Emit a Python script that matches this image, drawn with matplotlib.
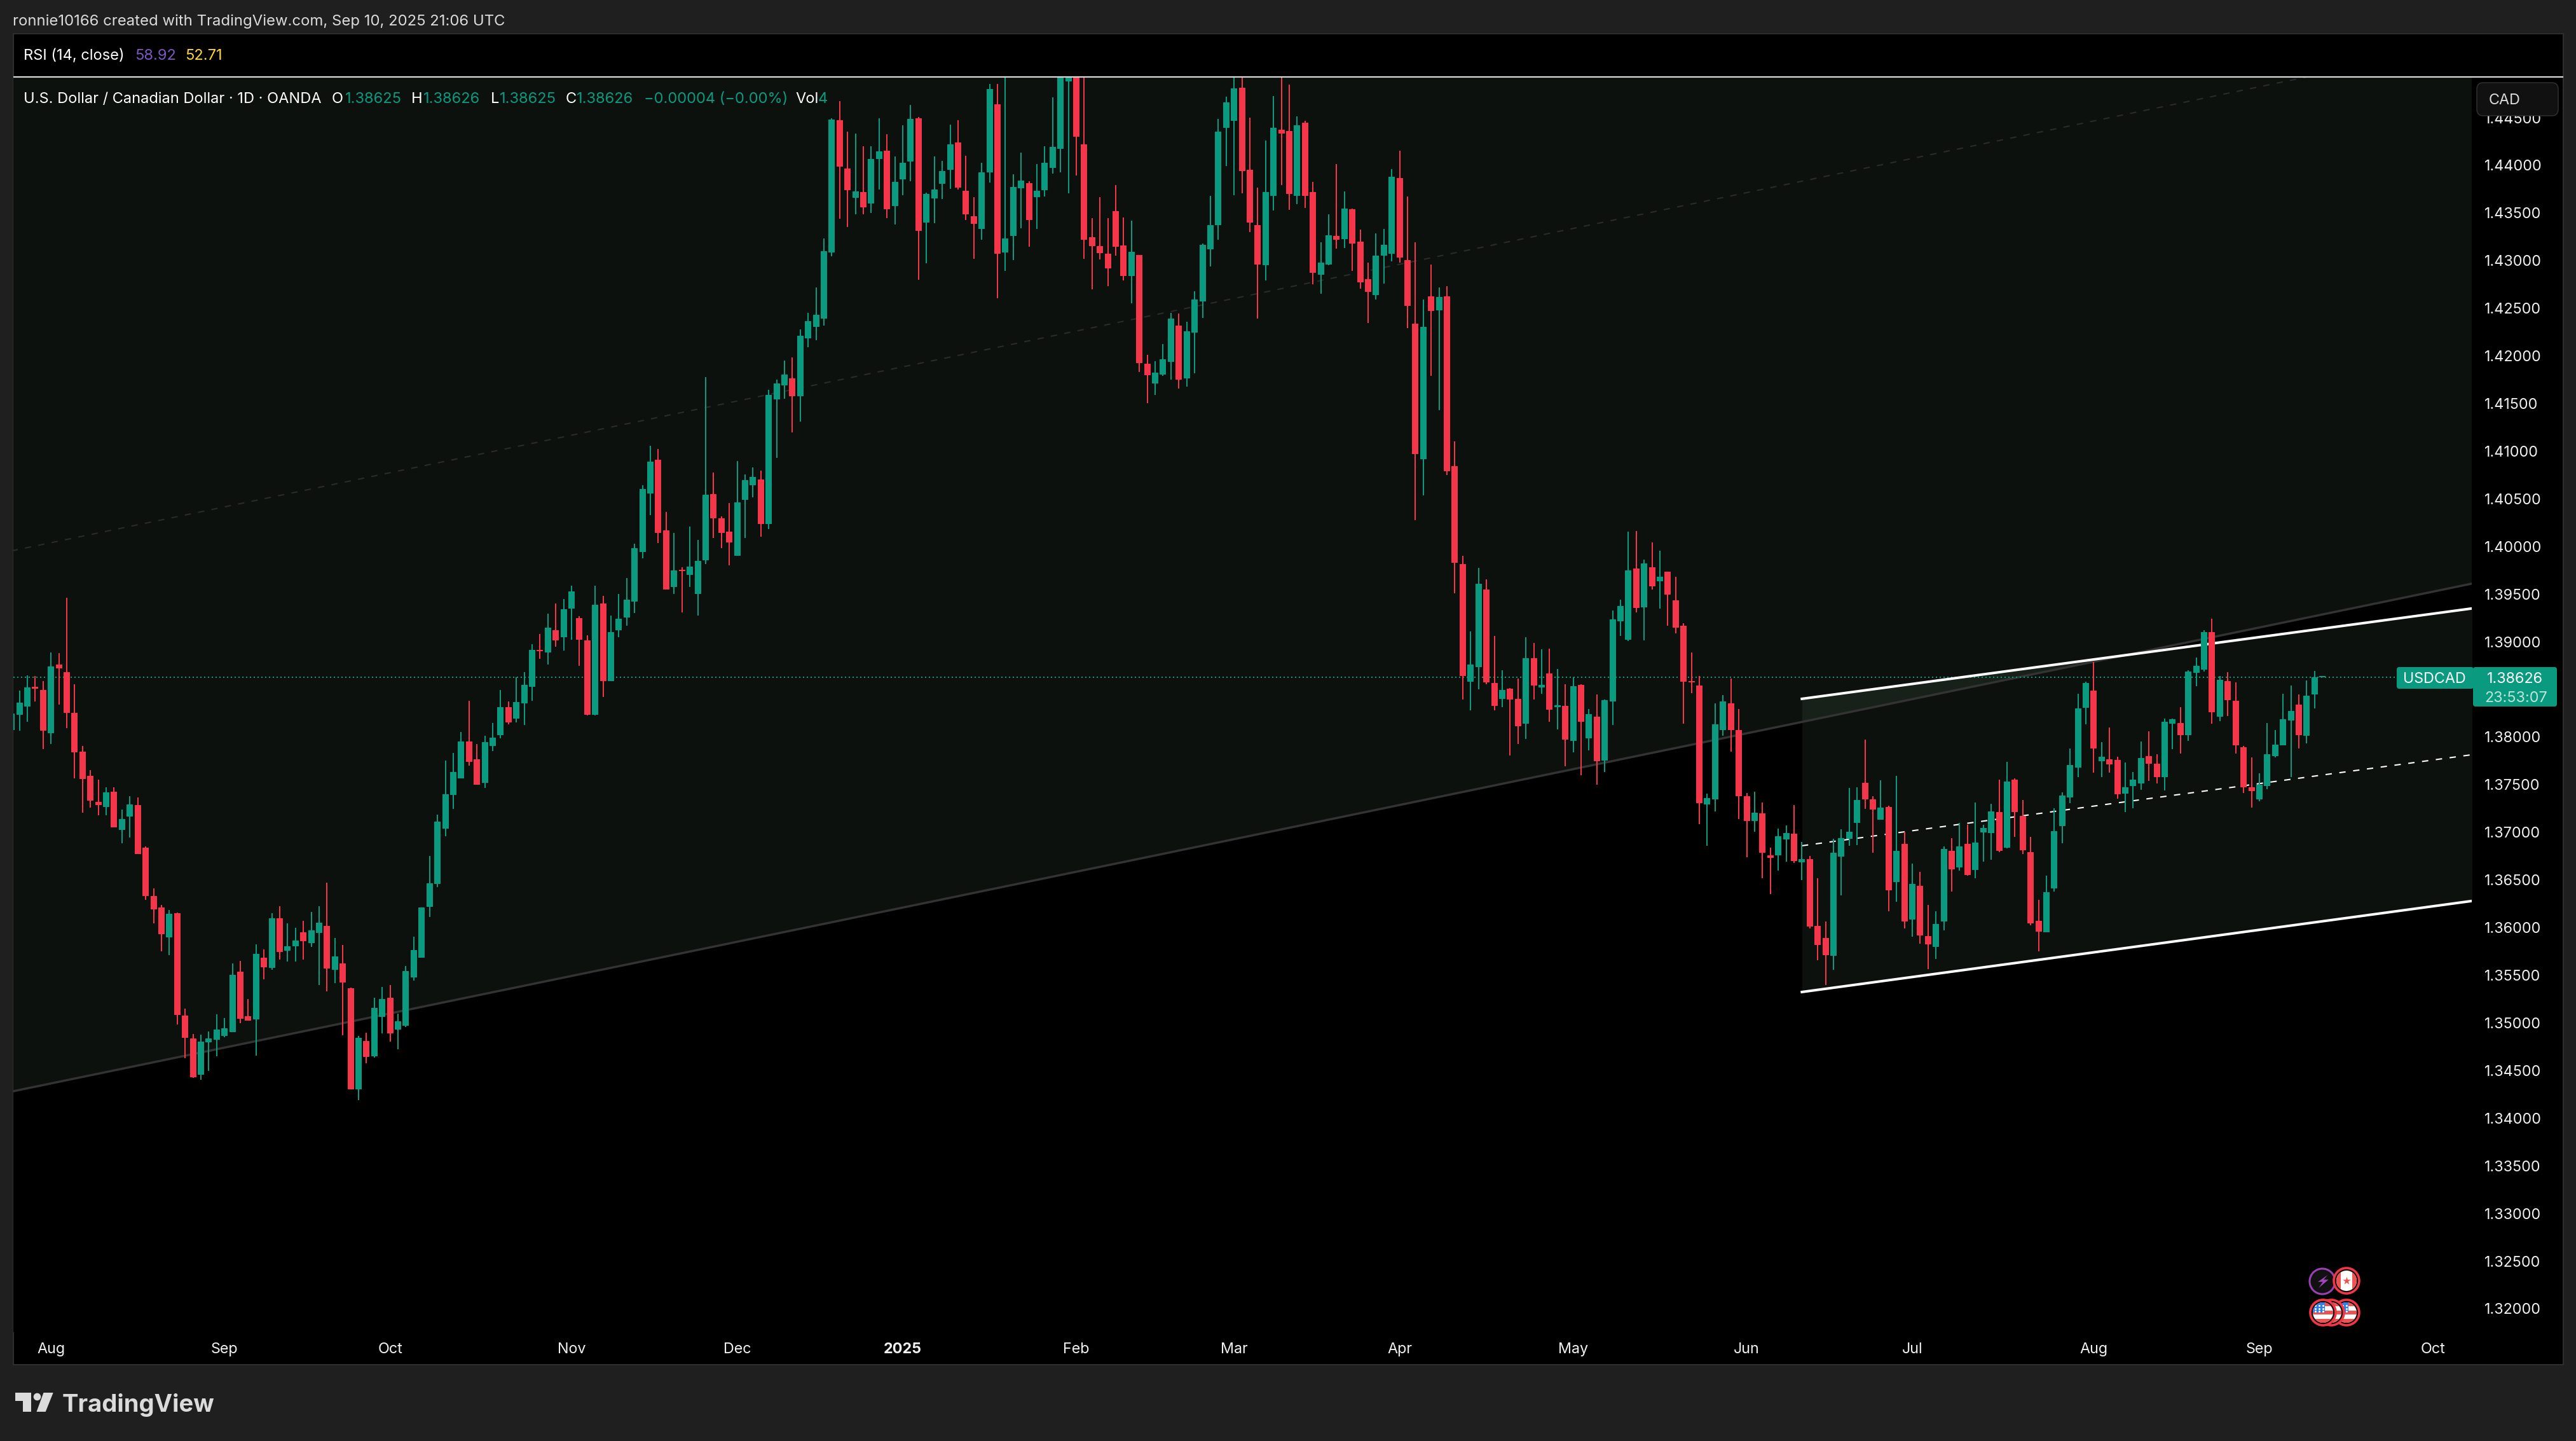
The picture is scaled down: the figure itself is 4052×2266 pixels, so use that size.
import numpy as np
import matplotlib
matplotlib.use('Agg')
import matplotlib.pyplot as plt
from matplotlib.patches import Rectangle, Circle, Polygon, FancyBboxPatch

plt.rcParams['font.family'] = ['Inter', 'DejaVu Sans']

# Daily candles
opens = [
    1.38072, 1.38235, 1.38322, 1.38517, 1.38495, 1.38039, 1.38763, 1.38680, 1.38253, 1.37848,
    1.37594, 1.37319, 1.37265, 1.37428, 1.37026, 1.37167, 1.37287, 1.36838, 1.36332, 1.36212,
    1.35898, 1.36151, 1.35076, 1.34837, 1.34458, 1.34798, 1.34823, 1.34863, 1.34903, 1.35539,
    1.35069, 1.35036, 1.35684, 1.35579, 1.36097, 1.35756, 1.35803, 1.35952, 1.35840, 1.35945,
    1.36017, 1.35557, 1.35626, 1.35366, 1.34302, 1.34809, 1.34649, 1.35065, 1.35264, 1.34932,
    1.34971, 1.35478, 1.35684, 1.36220, 1.36455, 1.37041, 1.37392, 1.37565, 1.37953, 1.37768,
    1.37519, 1.37907, 1.38020, 1.38313, 1.38194, 1.38354, 1.38527, 1.38915, 1.38888, 1.39123,
    1.39048, 1.39348, 1.39249, 1.39014, 1.38234, 1.39402, 1.38589, 1.39123, 1.39256, 1.39423,
    1.39944, 1.40557, 1.40911, 1.40168, 1.39576, 1.39756, 1.39702, 1.39501, 1.39855, 1.40550,
    1.40298, 1.40155, 1.39903, 1.40488, 1.40645, 1.40703, 1.40237, 1.41544, 1.41690, 1.41765,
    1.41576, 1.42185, 1.42304, 1.42391, 1.43086, 1.44474, 1.43966, 1.43660, 1.43720, 1.43599,
    1.44067, 1.44154, 1.43573, 1.43854, 1.44039, 1.44493, 1.43400, 1.43653, 1.43807, 1.43952,
    1.44240, 1.43732, 1.43465, 1.43332, 1.43926, 1.44640, 1.43086, 1.43259, 1.43760, 1.43814,
    1.43667, 1.43739, 1.43973, 1.44172, 1.44882, 1.45150, 1.44219, 1.43245, 1.43152, 1.43072,
    1.43519, 1.43159, 1.42838, 1.43058, 1.41918, 1.41712, 1.41803, 1.41937, 1.42318, 1.41763,
    1.42246, 1.42571, 1.43119, 1.43372, 1.44395, 1.44467, 1.44814, 1.43952, 1.43372, 1.42953,
    1.43681, 1.44374, 1.44360, 1.43681, 1.44446, 1.43720, 1.42852, 1.42960, 1.43259, 1.43226,
    1.43540, 1.43198, 1.42805, 1.42639, 1.43053, 1.43072, 1.43866, 1.43006, 1.42337, 1.40914,
    1.42625, 1.42477, 1.42625, 1.40842, 1.39814, 1.38581, 1.38735, 1.39548, 1.38568, 1.38401,
    1.38506, 1.38401, 1.38142, 1.38827, 1.38520, 1.38666, 1.38312, 1.38326, 1.37962, 1.38547,
    1.37985, 1.38214, 1.37754, 1.38374, 1.39215, 1.39021, 1.39770, 1.39361, 1.39783, 1.39637,
    1.39736, 1.39436, 1.39167, 1.38588, 1.38541, 1.37294, 1.37345, 1.38074, 1.38353, 1.38074,
    1.37379, 1.37121, 1.37199, 1.36760, 1.36760, 1.36926, 1.36984, 1.36685, 1.36719, 1.36016,
    1.35892, 1.35701, 1.36744, 1.36932, 1.37096, 1.37519, 1.37345, 1.37132, 1.37264, 1.36479,
    1.36880, 1.36083, 1.36437, 1.35911, 1.35798, 1.36064, 1.36805, 1.36631, 1.36880, 1.36606,
    1.36999, 1.36993, 1.37212, 1.36838, 1.37552, 1.37173, 1.36791, 1.36072, 1.35950, 1.36412,
    1.37065, 1.37367, 1.37679, 1.38308, 1.38487, 1.37746, 1.37765, 1.37760, 1.37406, 1.37486,
    1.37513, 1.37798, 1.37721, 1.37580, 1.38139, 1.38147, 1.38020, 1.38673, 1.38709, 1.39102,
    1.38213, 1.38587, 1.38380, 1.37893, 1.37472, 1.37346, 1.37486, 1.37800, 1.37913, 1.38174,
    1.38341, 1.38014, 1.38447, 1.38625,
]
highs = [
    1.38300, 1.38488, 1.38647, 1.38640, 1.38589, 1.38890, 1.38882, 1.39461, 1.38553, 1.37906,
    1.37652, 1.37555, 1.37471, 1.37471, 1.37240, 1.37381, 1.37366, 1.36853, 1.36411, 1.36238,
    1.36183, 1.36158, 1.35152, 1.34881, 1.34877, 1.34910, 1.35091, 1.35051, 1.35626, 1.35648,
    1.35250, 1.35825, 1.35771, 1.36151, 1.36227, 1.36046, 1.35999, 1.36071, 1.36165, 1.36227,
    1.36473, 1.35890, 1.35818, 1.35373, 1.34863, 1.34895, 1.35264, 1.35377, 1.35398, 1.35098,
    1.35594, 1.35905, 1.36212, 1.36751, 1.37186, 1.37754, 1.37833, 1.38054, 1.38379, 1.37928,
    1.38013, 1.38146, 1.38493, 1.38374, 1.38629, 1.38680, 1.38977, 1.39082, 1.39297, 1.39402,
    1.39450, 1.39590, 1.39269, 1.39069, 1.39590, 1.39481, 1.39276, 1.39501, 1.39668, 1.40029,
    1.40645, 1.41057, 1.41023, 1.40362, 1.40145, 1.39784, 1.40209, 1.40070, 1.41779, 1.40778,
    1.40315, 1.40458, 1.40897, 1.40757, 1.40829, 1.40798, 1.41646, 1.41752, 1.41953, 1.41983,
    1.42278, 1.42452, 1.42719, 1.43234, 1.44493, 1.44673, 1.44353, 1.44334, 1.44200, 1.44200,
    1.44493, 1.44327, 1.44093, 1.44420, 1.44633, 1.44507, 1.43713, 1.44093, 1.44046, 1.44427,
    1.44474, 1.44100, 1.43667, 1.44027, 1.44854, 1.44854, 1.45100, 1.43905, 1.44132, 1.43833,
    1.44013, 1.44200, 1.44713, 1.45300, 1.45500, 1.46000, 1.45200, 1.43447, 1.43667, 1.43447,
    1.43793, 1.43454, 1.43418, 1.43058, 1.42012, 1.41944, 1.42124, 1.42452, 1.42445, 1.42358,
    1.42679, 1.43180, 1.43681, 1.44486, 1.44720, 1.45000, 1.45050, 1.44500, 1.43767, 1.44261,
    1.44727, 1.44950, 1.44846, 1.44514, 1.44467, 1.43826, 1.43191, 1.43486, 1.44013, 1.43725,
    1.43547, 1.43325, 1.42978, 1.43285, 1.43332, 1.43959, 1.44154, 1.43674, 1.43191, 1.42592,
    1.42960, 1.42719, 1.42733, 1.41104, 1.39902, 1.39109, 1.39777, 1.39654, 1.39061, 1.38701,
    1.38513, 1.38615, 1.39048, 1.38987, 1.38922, 1.38929, 1.38714, 1.38554, 1.38629, 1.38554,
    1.38295, 1.38449, 1.38394, 1.39327, 1.39443, 1.40154, 1.40161, 1.39862, 1.40042, 1.39957,
    1.39736, 1.39681, 1.39194, 1.38888, 1.38639, 1.37407, 1.38353, 1.38442, 1.38615, 1.38295,
    1.37413, 1.37427, 1.37311, 1.36838, 1.37039, 1.37073, 1.37287, 1.36899, 1.36753, 1.36517,
    1.36064, 1.36932, 1.37032, 1.37466, 1.37472, 1.37973, 1.37378, 1.37547, 1.37278, 1.37594,
    1.37004, 1.36672, 1.36584, 1.36238, 1.36171, 1.36852, 1.36938, 1.37098, 1.37082, 1.37311,
    1.37079, 1.37300, 1.37552, 1.37740, 1.37566, 1.37339, 1.36952, 1.36290, 1.36545, 1.37253,
    1.37419, 1.37879, 1.38454, 1.38579, 1.38786, 1.37948, 1.38100, 1.37793, 1.37732, 1.37632,
    1.37953, 1.38061, 1.37821, 1.38194, 1.38194, 1.38313, 1.38700, 1.38833, 1.39121, 1.39243,
    1.38640, 1.38681, 1.38573, 1.37906, 1.37787, 1.37620, 1.38145, 1.38074, 1.38454, 1.38541,
    1.38447, 1.38594, 1.38694, 1.38626,
]
lows = [
    1.38000, 1.38068, 1.38159, 1.38376, 1.37873, 1.37927, 1.38340, 1.38094, 1.37565, 1.37207,
    1.37258, 1.37178, 1.37178, 1.37052, 1.36885, 1.36947, 1.36773, 1.36292, 1.36046, 1.35753,
    1.35709, 1.34982, 1.34631, 1.34421, 1.34403, 1.34497, 1.34649, 1.34852, 1.34903, 1.34997,
    1.35022, 1.34657, 1.35456, 1.35557, 1.35666, 1.35644, 1.35644, 1.35666, 1.35796, 1.35398,
    1.35329, 1.35416, 1.34870, 1.34302, 1.34190, 1.34577, 1.34635, 1.34892, 1.34805, 1.34722,
    1.34957, 1.35445, 1.35684, 1.36111, 1.36426, 1.36958, 1.37247, 1.37565, 1.37699, 1.37499,
    1.37468, 1.37853, 1.37986, 1.38136, 1.38153, 1.38129, 1.38381, 1.38820, 1.38762, 1.38949,
    1.38909, 1.39021, 1.38749, 1.38228, 1.38228, 1.38422, 1.38589, 1.39048, 1.39167, 1.39303,
    1.39876, 1.40328, 1.40036, 1.39549, 1.39501, 1.39310, 1.39576, 1.39276, 1.39814, 1.40090,
    1.39981, 1.39804, 1.39903, 1.40090, 1.40516, 1.40104, 1.40182, 1.40931, 1.41551, 1.41197,
    1.41309, 1.42091, 1.42164, 1.42318, 1.43046, 1.43440, 1.43353, 1.43486, 1.43486, 1.43500,
    1.43746, 1.43447, 1.43379, 1.43685, 1.43833, 1.42798, 1.42971, 1.43393, 1.43646, 1.43753,
    1.43746, 1.43426, 1.43018, 1.43219, 1.43819, 1.42606, 1.42892, 1.43006, 1.43339, 1.43145,
    1.43332, 1.43674, 1.43912, 1.43926, 1.43706, 1.43894, 1.43018, 1.42697, 1.43011, 1.42733,
    1.43053, 1.42791, 1.42552, 1.41831, 1.41504, 1.41590, 1.41791, 1.41752, 1.41658, 1.41677,
    1.41817, 1.42398, 1.42939, 1.43219, 1.43994, 1.43685, 1.43706, 1.43299, 1.42391, 1.42791,
    1.43526, 1.43793, 1.43533, 1.43592, 1.43552, 1.42751, 1.42651, 1.42953, 1.43126, 1.43133,
    1.42892, 1.42704, 1.42344, 1.42592, 1.42758, 1.42992, 1.42978, 1.42292, 1.40277, 1.40539,
    1.41791, 1.41431, 1.40750, 1.39507, 1.38394, 1.38282, 1.38500, 1.38554, 1.38282, 1.38312,
    1.37808, 1.37928, 1.37979, 1.38394, 1.38455, 1.38159, 1.38081, 1.37693, 1.37839, 1.37601,
    1.37860, 1.37499, 1.37635, 1.38129, 1.39061, 1.39007, 1.39310, 1.39014, 1.39548, 1.39347,
    1.39167, 1.39089, 1.38142, 1.38462, 1.37087, 1.36858, 1.37219, 1.38013, 1.37846, 1.37141,
    1.36739, 1.37005, 1.36518, 1.36350, 1.36600, 1.36692, 1.36678, 1.36497, 1.35994, 1.35657,
    1.35399, 1.35560, 1.36337, 1.36860, 1.36866, 1.37248, 1.36786, 1.37132, 1.36174, 1.36271,
    1.35994, 1.35903, 1.35834, 1.35563, 1.35668, 1.35969, 1.36379, 1.36600, 1.36542, 1.36517,
    1.36692, 1.36711, 1.36791, 1.36835, 1.36952, 1.36775, 1.36025, 1.35754, 1.35950, 1.36379,
    1.36885, 1.37306, 1.37580, 1.38133, 1.37627, 1.37580, 1.37627, 1.37353, 1.37212, 1.37253,
    1.37447, 1.37538, 1.37513, 1.37439, 1.37873, 1.37826, 1.37959, 1.38534, 1.38687, 1.38139,
    1.38166, 1.38219, 1.37826, 1.37414, 1.37259, 1.37326, 1.37455, 1.37787, 1.37913, 1.37580,
    1.37880, 1.37933, 1.38301, 1.38625,
]
closes = [
    1.38246, 1.38361, 1.38521, 1.38510, 1.38068, 1.38741, 1.38720, 1.38253, 1.37840, 1.37558,
    1.37334, 1.37287, 1.37421, 1.37052, 1.37139, 1.37294, 1.36773, 1.36332, 1.36191, 1.35930,
    1.36144, 1.35084, 1.34845, 1.34429, 1.34805, 1.34837, 1.34932, 1.34942, 1.35503, 1.35044,
    1.35022, 1.35724, 1.35583, 1.36097, 1.35746, 1.35803, 1.35865, 1.35858, 1.35970, 1.36053,
    1.35572, 1.35699, 1.35424, 1.34302, 1.34845, 1.34642, 1.35156, 1.35250, 1.34892, 1.35018,
    1.35543, 1.35764, 1.36212, 1.36466, 1.37113, 1.37399, 1.37634, 1.37953, 1.37739, 1.37499,
    1.37948, 1.37993, 1.38313, 1.38153, 1.38367, 1.38548, 1.38915, 1.38902, 1.39147, 1.39014,
    1.39341, 1.39528, 1.39021, 1.38234, 1.39389, 1.38589, 1.39103, 1.39242, 1.39443, 1.39981,
    1.40604, 1.40890, 1.40145, 1.39549, 1.39750, 1.39743, 1.39790, 1.39848, 1.40543, 1.40298,
    1.40145, 1.40042, 1.40465, 1.40696, 1.40730, 1.40237, 1.41592, 1.41711, 1.41806, 1.41578,
    1.42211, 1.42365, 1.42431, 1.43098, 1.44481, 1.43987, 1.43739, 1.43725, 1.43559, 1.44067,
    1.44147, 1.43540, 1.43826, 1.44027, 1.44486, 1.43313, 1.43699, 1.43746, 1.43941, 1.44219,
    1.43767, 1.43486, 1.43386, 1.43926, 1.44800, 1.43072, 1.43234, 1.43772, 1.43840, 1.43426,
    1.43732, 1.44027, 1.44193, 1.45050, 1.45050, 1.44301, 1.43219, 1.43152, 1.43079, 1.42920,
    1.43145, 1.42838, 1.43093, 1.41925, 1.41799, 1.41824, 1.41965, 1.42391, 1.41752, 1.42257,
    1.42592, 1.43166, 1.43372, 1.44353, 1.44662, 1.44807, 1.43941, 1.43400, 1.42960, 1.43720,
    1.44395, 1.44334, 1.43699, 1.44420, 1.43681, 1.42873, 1.42978, 1.43266, 1.43219, 1.43547,
    1.43180, 1.42772, 1.42672, 1.43053, 1.43166, 1.43880, 1.43032, 1.42524, 1.40968, 1.42304,
    1.42473, 1.42618, 1.40791, 1.39828, 1.38643, 1.38762, 1.39610, 1.38575, 1.38326, 1.38493,
    1.38394, 1.38115, 1.38827, 1.38541, 1.38547, 1.38289, 1.38333, 1.37975, 1.38534, 1.38159,
    1.38241, 1.37747, 1.38387, 1.39235, 1.39375, 1.39749, 1.39354, 1.39821, 1.39582, 1.39681,
    1.39494, 1.39147, 1.38581, 1.38575, 1.37308, 1.37359, 1.38135, 1.38374, 1.38074, 1.37379,
    1.37121, 1.37206, 1.36787, 1.36732, 1.36961, 1.36991, 1.36698, 1.36719, 1.36011, 1.35817,
    1.35712, 1.36786, 1.36938, 1.37004, 1.37339, 1.37345, 1.37240, 1.37262, 1.36390, 1.36805,
    1.36066, 1.36459, 1.35917, 1.35823, 1.36039, 1.36824, 1.36611, 1.36852, 1.36550, 1.36891,
    1.37046, 1.37220, 1.36805, 1.37533, 1.37212, 1.36811, 1.36044, 1.35958, 1.36371, 1.37013,
    1.37386, 1.37707, 1.38299, 1.38568, 1.37879, 1.37793, 1.37713, 1.37400, 1.37472, 1.37552,
    1.37779, 1.37721, 1.37580, 1.38161, 1.38186, 1.38020, 1.38687, 1.38748, 1.39102, 1.38261,
    1.38601, 1.38388, 1.37912, 1.37472, 1.37433, 1.37500, 1.37820, 1.37920, 1.38187, 1.38274,
    1.38020, 1.38434, 1.38626, 1.38626,
]
last_price = 1.38626

# Month labels sit at the first candle of each month
month_labels = ['Aug', 'Sep', 'Oct', 'Nov', 'Dec', '2025', 'Feb', 'Mar', 'Apr', 'May', 'Jun', 'Jul', 'Aug', 'Sep', 'Oct']
month_bars = [5, 27, 48, 71, 92, 113, 135, 155, 176, 198, 220, 241, 264, 285, 307]
# 1.385 is left out, the last price label sits on it
price_ticks = [1.32, 1.325, 1.33, 1.335, 1.34, 1.345, 1.35, 1.355, 1.36, 1.365, 1.37, 1.375, 1.38,
               1.39, 1.395, 1.40, 1.405, 1.41, 1.415, 1.42, 1.425, 1.43, 1.435, 1.44, 1.445]

# Channels drawn on the chart: bar index and price at each end
wide_bars = [0, 312]
wide_lower = [1.34279, 1.39611]
wide_middle = [1.39954, 1.45286]
wide_upper = [1.45629, 1.50961]
near_bars = [227, 312]
near_upper = [1.38401, 1.39350]
near_middle = [1.36859, 1.37815]
near_lower = [1.35324, 1.36280]

GREEN = '#0A9A80'
RED = '#F5364A'
PAGE = '#1F1F1F'
TEXT = '#F0F0F0'
FILL = '#B4FFB9'

fig = plt.figure(figsize=(40.52, 22.66), dpi=100, facecolor=PAGE)


def pixel_axes(zorder):
    # full figure axes counted in image pixels, for the chrome around the chart
    a = fig.add_axes([0, 0, 1, 1], zorder=zorder)
    a.set_xlim(0, 4052)
    a.set_ylim(2266, 0)
    a.axis('off')
    return a


back = pixel_axes(-1)
back.add_patch(Rectangle((21, 53), 4011, 2093, fc='black', ec='#2E2E2E', lw=1.5))

# Price pane
ax = fig.add_axes([21 / 4052, 1 - 2095 / 2266, 3867 / 4052, 1973 / 2266], zorder=1)
ax.set_facecolor('black')
ax.set_xlim(0.226, 311.93)
ax.set_ylim(1.31753, 1.44921)
for s in ax.spines.values():
    s.set_visible(False)

ax.fill_between(wide_bars, wide_lower, wide_upper, color=FILL, alpha=0.07, lw=0, zorder=1)
ax.fill_between(near_bars, near_lower, near_upper, color=FILL, alpha=0.07, lw=0, zorder=1)
ax.plot(wide_bars, wide_lower, color='#333333', lw=2.5, zorder=2)
ax.plot(wide_bars, wide_middle, color='#2C2C2C', lw=1.44, ls=(0, (5, 5.7)), zorder=2)
ax.axhline(last_price, color='#089981', lw=1.44, ls=(0, (1, 2)), zorder=2)
ax.plot(near_bars, near_upper, color='white', lw=2.9, zorder=3)
ax.plot(near_bars, near_lower, color='white', lw=2.9, zorder=3)
ax.plot(near_bars, near_middle, color='white', lw=1.5, ls=(0, (4.8, 5.7)), zorder=3)

# Candles
bars = np.arange(len(closes))
o = np.array(opens)
h = np.array(highs)
l = np.array(lows)
c = np.array(closes)
colors = [GREEN if cl >= op else RED for op, cl in zip(o, c)]
body_low = np.minimum(o, c)
body_height = np.maximum(np.abs(c - o), 0.00014)
ax.vlines(bars, l, h, colors=colors, lw=1.44, zorder=4)
ax.bar(bars, body_height, bottom=body_low, width=0.806, color=colors, lw=0, zorder=5)

# Axes ticks
ax.yaxis.tick_right()
ax.set_yticks(price_ticks)
ax.set_yticklabels([f'{p:.5f}' for p in price_ticks])
ax.tick_params(axis='y', length=0, pad=14.4, labelsize=16.8, labelcolor=TEXT)
ax.set_xticks(month_bars)
ax.set_xticklabels(month_labels)
ax.tick_params(axis='x', length=0, pad=11.2, labelsize=16.8, labelcolor=TEXT)
for t in ax.get_xticklabels():
    if t.get_text() == '2025':
        t.set_fontweight('bold')

# Chrome on top of the chart
top = pixel_axes(2)
top.plot([21, 4032], [121, 121], color='#DBDBDB', lw=1.6, solid_capstyle='butt')

top.text(20, 40, 'ronnie10166 created with TradingView.com, Sep 10, 2025 21:06 UTC',
         color='#DBDBDB', fontsize=17.2, va='baseline')

top.text(37, 94, 'RSI (14, close)', color='white', fontsize=17, va='baseline')
top.text(212, 94, '58.92', color='#7E57C2', fontsize=17, va='baseline')
top.text(291, 94, '52.71', color='#FDD835', fontsize=17, va='baseline')

legend_parts = [
    (37, 'U.S. Dollar / Canadian Dollar · 1D · OANDA', 'white'),
    (522, 'O', 'white'), (543, '1.38625', GREEN),
    (647, 'H', 'white'), (666, '1.38626', GREEN),
    (772, 'L', 'white'), (786, '1.38625', GREEN),
    (890, 'C', 'white'), (907, '1.38626', GREEN),
    (1013, '−0.00004 (−0.00%)', GREEN),
    (1251, 'Vol', 'white'), (1287, '4', GREEN),
]
for x, label, col in legend_parts:
    top.text(x, 162, label, color=col, fontsize=17, va='baseline')

# Currency button
top.add_patch(FancyBboxPatch((3902, 136), 116, 40, boxstyle='round,pad=6,rounding_size=10',
                             fc='#111111', ec='#333333', lw=1))
top.text(3915, 156, 'CAD', color='#DBDBDB', fontsize=16.8, va='center_baseline')

# Last price labels
top.add_patch(FancyBboxPatch((3773, 1052), 115, 28, boxstyle='round,pad=3,rounding_size=4', fc=GREEN, lw=0))
top.add_patch(FancyBboxPatch((3893, 1052), 126, 56, boxstyle='round,pad=3,rounding_size=4', fc=GREEN, lw=0))
top.add_patch(Rectangle((3880, 1049), 8, 34, fc=GREEN, lw=0))
top.text(3829, 1066, 'USDCAD', color='white', fontsize=16.8, ha='center', va='center_baseline')
top.text(3956, 1065, '1.38626', color='white', fontsize=16.8, ha='center', va='center_baseline')
top.text(3958, 1095, '23:53:07', color='#BDE5DC', fontsize=16.8, ha='center', va='center_baseline')


# Event markers
def flag_badge(cx, cy, kind):
    top.add_patch(Circle((cx, cy), 20, fc='#111111', ec='#F23645', lw=2.6))
    disc = Circle((cx, cy), 16, fc='white', lw=0)
    top.add_patch(disc)
    shapes = []
    if kind == 'us':
        for k in (-16, -3.2, 9.6):
            shapes.append(Rectangle((cx - 16, cy + k), 32, 6.4, fc='#F05252', lw=0))
        shapes.append(Rectangle((cx - 16, cy - 16), 19, 16, fc='#2F80ED', lw=0))
    else:
        shapes.append(Rectangle((cx - 16, cy - 16), 7, 32, fc='#F05252', lw=0))
        shapes.append(Rectangle((cx + 9, cy - 16), 7, 32, fc='#F05252', lw=0))
    for s in shapes:
        top.add_patch(s)
        s.set_clip_path(disc)
    if kind == 'us':
        star_x = [cx - 12, cx - 6, cx, cx - 12, cx - 6, cx, cx - 12, cx - 6, cx]
        star_y = [cy - 11, cy - 11, cy - 11, cy - 6, cy - 6, cy - 6, cy - 2, cy - 2, cy - 2]
        pts = top.scatter(star_x, star_y, s=5, c='white', lw=0)
        pts.set_clip_path(disc)
    else:
        top.scatter([cx], [cy], s=90, c='#F05252', marker='*', lw=0)


top.add_patch(Circle((3653, 2015), 20, fc='#111111', ec='#9C3FB5', lw=2.2))
top.add_patch(Polygon([(3661.3, 2005), (3646.1, 2015.7), (3653.9, 2015.7), (3647.2, 2025.3),
                       (3662.7, 2012.3), (3654.9, 2012.3)], fc='#A645C0', lw=0))
flag_badge(3691, 2014, 'ca')
flag_badge(3691, 2064, 'us')
flag_badge(3667, 2064, 'us')
flag_badge(3654, 2064, 'us')

# TradingView mark
logo = '#DBDBDB'
top.add_patch(Polygon([(24, 2190), (48.5, 2190), (48.5, 2220), (36, 2220), (36, 2202.5), (24, 2202.5)], fc=logo, lw=0))
top.add_patch(Circle((58.5, 2196.5), 5.8, fc=logo, lw=0))
top.add_patch(Polygon([(68.5, 2190), (83.7, 2190), (71.7, 2220), (57.5, 2220)], fc=logo, lw=0))
top.text(98, 2220, 'TradingView', color=logo, fontsize=27.5, fontweight='bold', va='baseline')

fig.savefig('out.png', dpi=100, facecolor=PAGE)
